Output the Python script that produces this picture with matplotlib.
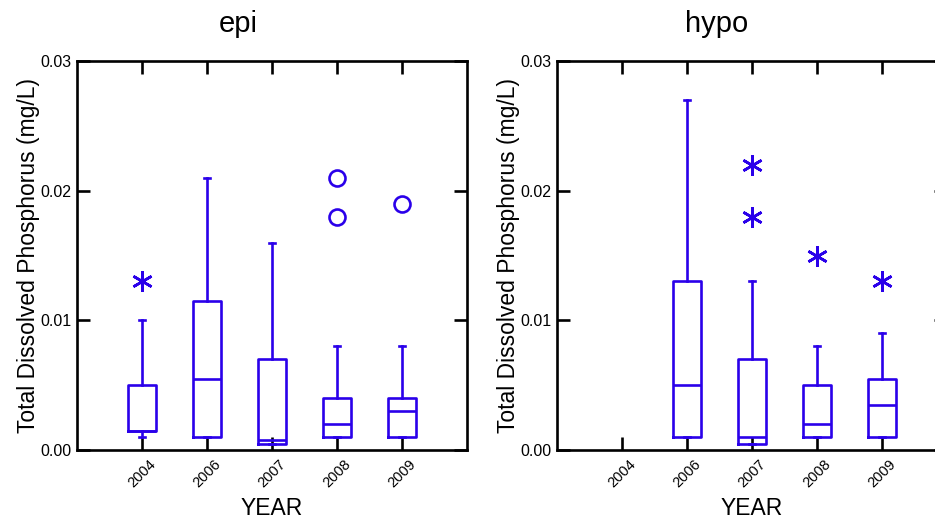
import matplotlib
matplotlib.use("Agg")
import matplotlib.pyplot as plt

plt.rcParams['font.family'] = ['Liberation Sans', 'DejaVu Sans']

years = ["2004", "2006", "2007", "2008", "2009"]

# epi statistics per year (whisker low, Q1, median, Q3, whisker high)
epi_whislo = [0.0010, 0.0010, 0.0005, 0.0010, 0.0010]
epi_q1     = [0.0015, 0.0010, 0.0005, 0.0010, 0.0010]
epi_med    = [0.0015, 0.0055, 0.0008, 0.0020, 0.0030]
epi_q3     = [0.0050, 0.0115, 0.0070, 0.0040, 0.0040]
epi_whishi = [0.0100, 0.0210, 0.0160, 0.0080, 0.0080]
epi_outside = {"2004": [0.013]}
epi_far = {"2008": [0.018, 0.021], "2009": [0.019]}

# hypo statistics (no 2004 data)
hypo_years  = ["2006", "2007", "2008", "2009"]
hypo_whislo = [0.0010, 0.0005, 0.0010, 0.0010]
hypo_q1     = [0.0010, 0.0005, 0.0010, 0.0010]
hypo_med    = [0.0050, 0.0010, 0.0020, 0.0035]
hypo_q3     = [0.0130, 0.0070, 0.0050, 0.0055]
hypo_whishi = [0.0270, 0.0130, 0.0080, 0.0090]
hypo_outside = {"2007": [0.018, 0.022], "2008": [0.015], "2009": [0.013]}
hypo_far = {}

yticks = [0.00, 0.01, 0.02, 0.03]
ytick_labels = ["0.00", "0.01", "0.02", "0.03"]

BLUE = '#2a00ea'
W, H = 935, 524
fig = plt.figure(figsize=(W / 100, H / 100), dpi=100)

ax_w = 390 / W
ax_h = 389 / H
ax_b = 1 - 450 / H
axL = fig.add_axes([77 / W, ax_b, ax_w, ax_h])
axR = fig.add_axes([557 / W, ax_b, ax_w, ax_h])


def draw(ax, yrs, wlo, q1, med, q3, whi, outside, far):
    pos = [years.index(y) + 1 for y in yrs]
    stats = []
    for i in range(len(yrs)):
        stats.append(dict(whislo=wlo[i], q1=q1[i], med=med[i], q3=q3[i],
                          whishi=whi[i], fliers=[]))
    lp = dict(color=BLUE, linewidth=1.9)
    ax.bxp(stats, positions=pos, widths=0.43, capwidths=0.1,
           showfliers=False, boxprops=lp, whiskerprops=lp, capprops=lp,
           medianprops=lp, manage_ticks=False, zorder=2)
    for y, vals in outside.items():
        p = years.index(y) + 1
        ax.plot([p] * len(vals), vals, linestyle='none', marker=(6, 2, 0),
                markersize=15, markeredgewidth=1.9, color=BLUE, zorder=3)
    for y, vals in far.items():
        p = years.index(y) + 1
        ax.plot([p] * len(vals), vals, linestyle='none', marker='o',
                markersize=11.5, markeredgewidth=1.9, markerfacecolor='none',
                markeredgecolor=BLUE, zorder=3)
    ax.set_xlim(0, 6)
    ax.set_ylim(0, 0.03)
    ax.set_xticks(range(1, len(years) + 1))
    ax.set_xticklabels(years, rotation=45, ha='center', fontsize=10.5)
    ax.set_yticks(yticks)
    ax.set_yticklabels(ytick_labels, fontsize=11.5)
    ax.tick_params(direction='in', length=9.5, width=1.9, top=True, right=True,
                   colors='black', zorder=5)
    ax.tick_params(axis='x', pad=5)
    ax.tick_params(axis='y', pad=4)
    for s in ax.spines.values():
        s.set_linewidth(1.9)
        s.set_zorder(5)
    ax.set_ylabel("Total Dissolved Phosphorus (mg/L)", fontsize=16.5, labelpad=0)
    ax.set_xlabel("YEAR", fontsize=16.5, labelpad=5)


draw(axL, years, epi_whislo, epi_q1, epi_med, epi_q3, epi_whishi, epi_outside, epi_far)
draw(axR, hypo_years, hypo_whislo, hypo_q1, hypo_med, hypo_q3, hypo_whishi, hypo_outside, hypo_far)

fig.text(238 / W, 1 - 32 / H, "epi", fontsize=21, ha='center', va='baseline')
fig.text(717 / W, 1 - 32 / H, "hypo", fontsize=21, ha='center', va='baseline')

fig.savefig("out.png", dpi=100)
